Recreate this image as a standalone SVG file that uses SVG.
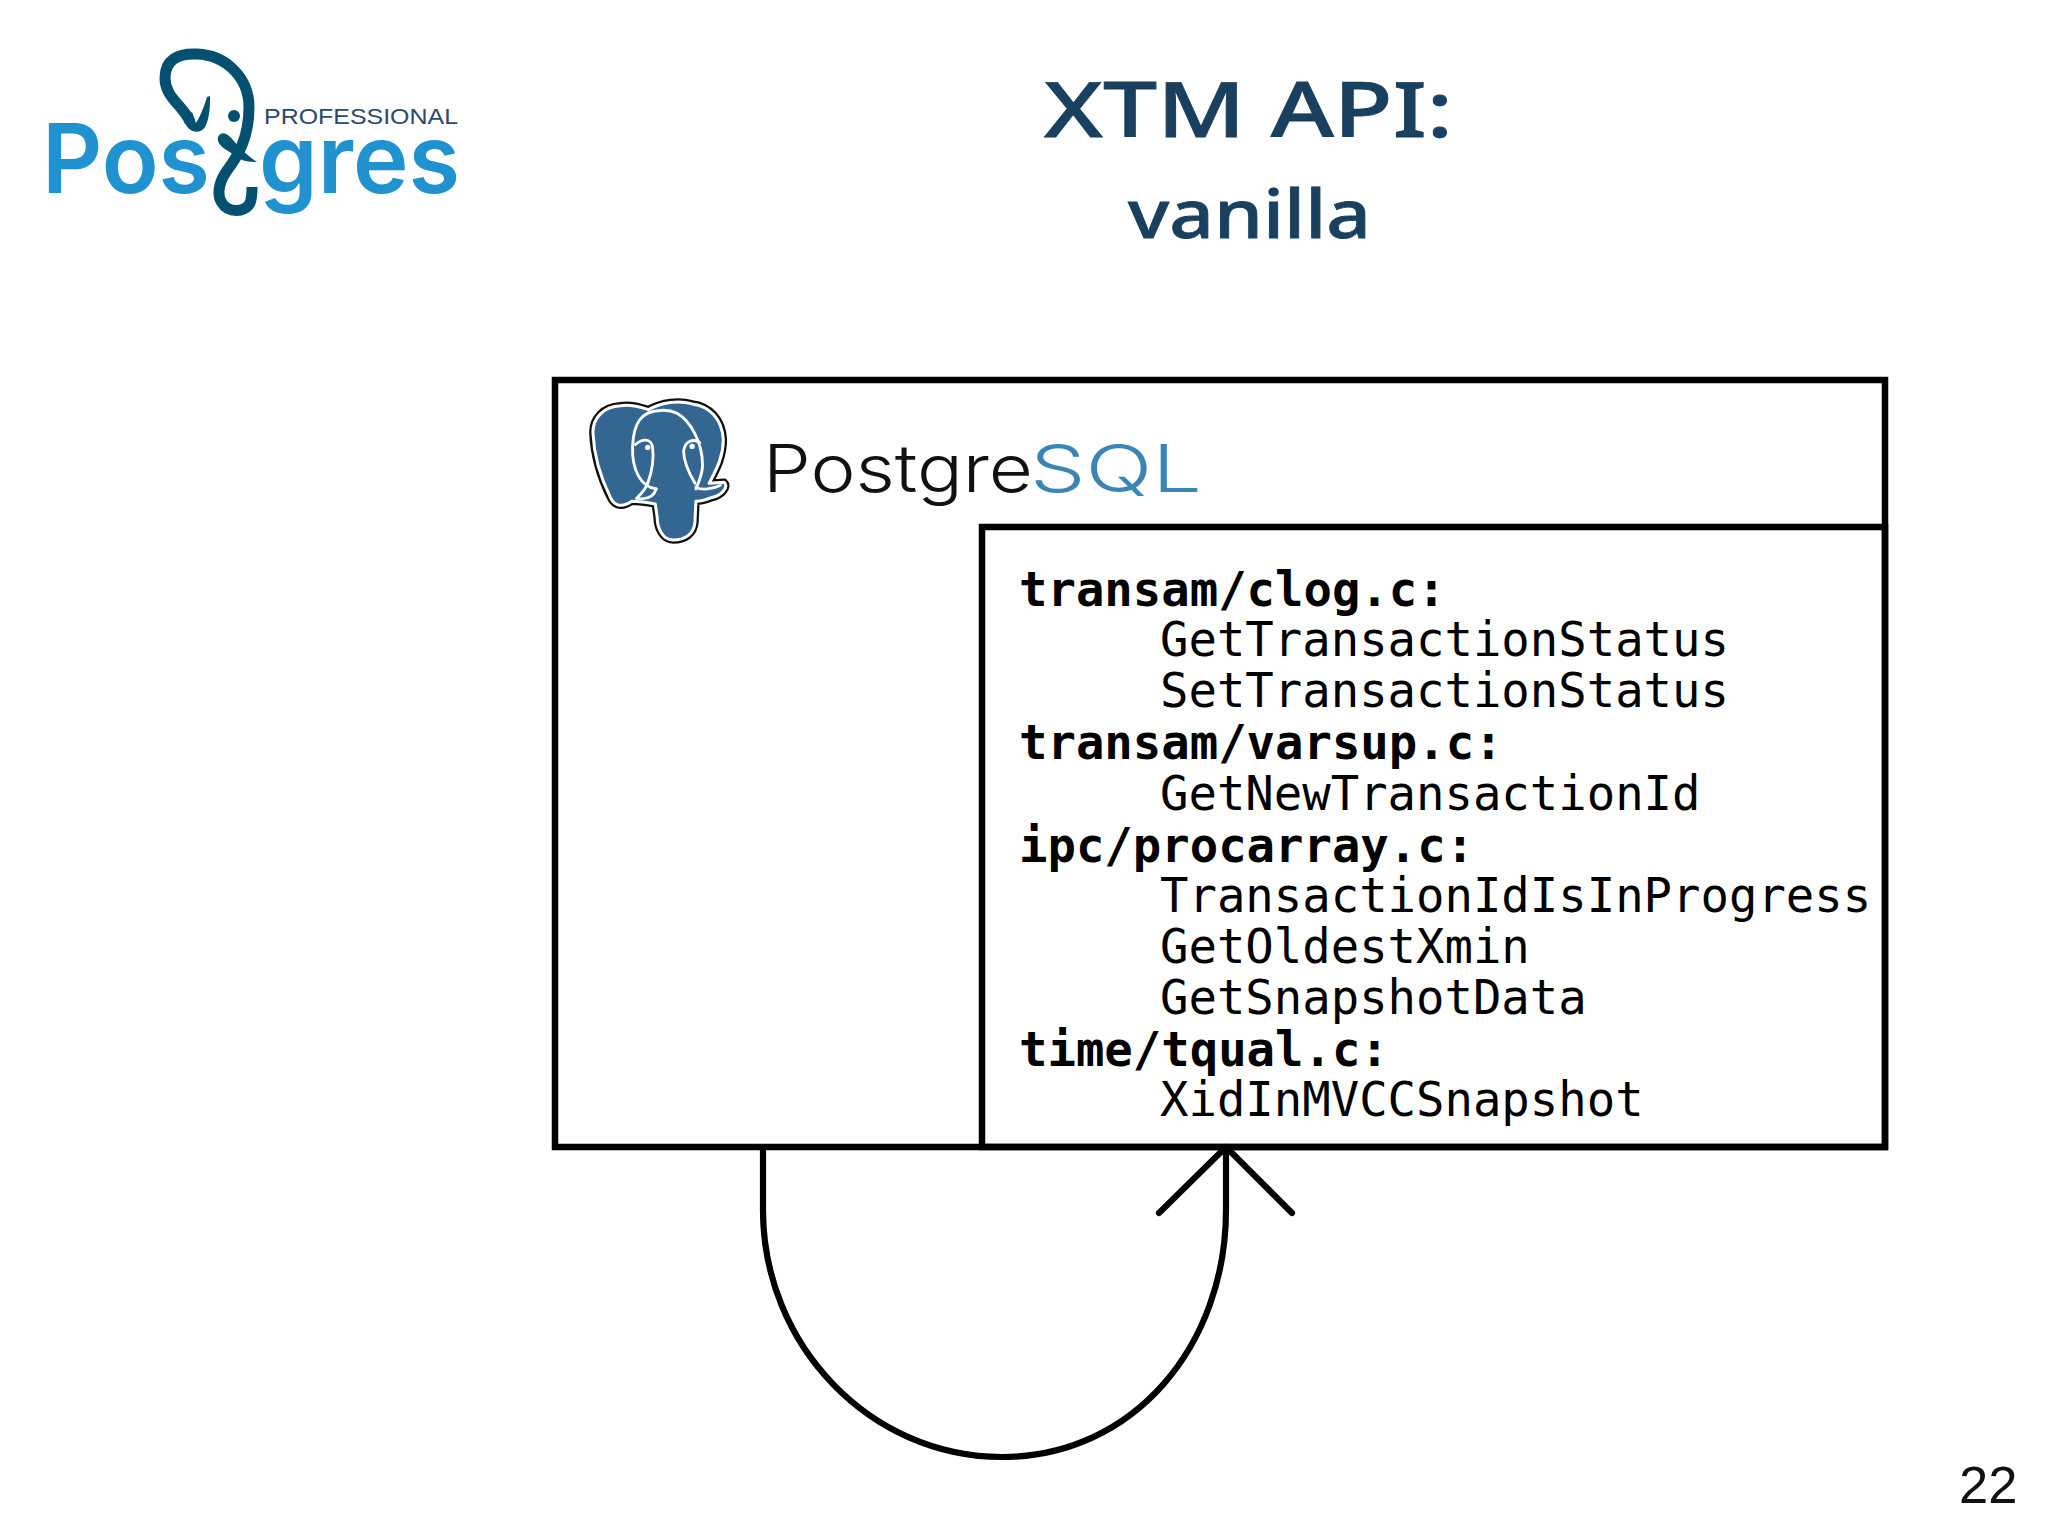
<svg xmlns="http://www.w3.org/2000/svg" width="2048" height="1536" viewBox="0 0 2048 1536">
<style>
.box{fill:none;stroke:#000;stroke-width:6.5}
.mono{font-family:"DejaVu Sans Mono","Liberation Mono",monospace;font-size:47.25px;fill:#000}
.b{font-weight:700}
.title{font-family:"Noto Sans","DejaVu Sans",sans-serif;font-weight:500;fill:#1a4060;text-anchor:start;stroke:#1a4060;stroke-width:.8}
.wire{fill:none;stroke:#000;stroke-width:6.2;stroke-linecap:round;stroke-linejoin:round}
.pg{font-family:"Inter","Liberation Sans",Arial,sans-serif;font-weight:600;font-size:96px;fill:#2092d0}
.ele{fill:none;stroke:#045070;stroke-width:11;stroke-linecap:butt}
.word{font-family:"Inter","Liberation Sans",sans-serif;font-weight:300;font-size:66px}
.wl{fill:none;stroke:#fff;stroke-width:3;stroke-linecap:round;stroke-linejoin:round}
</style>
<rect width="2048" height="1536" fill="#fff"/>
<g id="logo-postgrespro">
<text class="pg" x="42" y="193" textLength="168" lengthAdjust="spacingAndGlyphs">Pos</text>
<text class="pg" x="259" y="193" textLength="201" lengthAdjust="spacingAndGlyphs">gres</text>
<text x="264" y="124" textLength="194" lengthAdjust="spacingAndGlyphs" style="font-family:'Liberation Sans',sans-serif;font-size:22.5px;fill:#2d4a6a">PROFESSIONAL</text>
<path class="ele" d="M190 122C184 106 165 98 165 78C165 60 178 53 197 54C226 55 249 78 249 107C249 138 238 156 226 172C218 184 217 196 222 203C228 213 245 213 250 203C252 198 252 193 252 187"/>
<path fill="#045070" d="M184 118C185 132 200 136 205 127C210 118 210 105 210 96L207 97C204 107 200 117 196 123L192 112Z"/>
<path fill="#045070" d="M218 137C222 130 228 134 233 140C238 146 245 154 257 162C245 162 240 160 234 155C228 150 216 146 218 137Z"/>
<circle cx="234" cy="116" r="6" fill="#045070"/>
</g>
<g id="title">
<text class="title" x="1044" y="137" font-size="77" textLength="409" lengthAdjust="spacingAndGlyphs">XTM API:</text>
<text class="title" x="1128" y="238" font-size="68" textLength="243" lengthAdjust="spacingAndGlyphs">vanilla</text>
</g>
<g id="postgresql-box">
<rect class="box" x="555" y="380" width="1330" height="767"/>
<g id="postgresql-logo">
<g transform="translate(660 471) scale(.945) translate(-660 -471)">
<path fill="#336791" stroke="#111" stroke-width="8" stroke-linejoin="round" d="M618 402C628 400 638 403 648 406C662 398 680 396 694 400C712 402 726 416 727 438C727 458 718 472 712 484L728 483C733 488 725 497 715 499C708 502 702 503 698 503L697 525C696 538 686 544 674 544C662 544 657 530 657 520L655 506C645 504 640 503 630 503C620 510 612 508 608 500C598 480 590 455 589 430C589 415 600 403 618 402Z"/>
<path fill="#336791" stroke="#fff" stroke-width="3.2" stroke-linejoin="round" d="M618 402C628 400 638 403 648 406C662 398 680 396 694 400C712 402 726 416 727 438C727 458 718 472 712 484L728 483C733 488 725 497 715 499C708 502 702 503 698 503L697 525C696 538 686 544 674 544C662 544 657 530 657 520L655 506C645 504 640 503 630 503C620 510 612 508 608 500C598 480 590 455 589 430C589 415 600 403 618 402Z"/>
<path class="wl" d="M656 490C640 488 630 470 631 445C632 420 640 408 660 407C668 406 674 408 678 410C692 418 705 440 705 465C705 475 700 485 698 490"/>
<path class="wl" d="M634 443C642 436 650 437 652 445C654 458 652 470 647 484"/>
<path class="wl" d="M702 441C695 436 686 440 685 450C685 460 690 472 697 484"/>
<path class="wl" d="M656 490C654 497 648 502 635 500C640 495 644 492 647 484"/>
<path class="wl" d="M698 488C704 492 716 490 724 486"/>
<circle cx="647" cy="446" r="2.8" fill="#fff"/>
<circle cx="694" cy="445" r="2.8" fill="#fff"/>
</g>
<text class="word" x="763" y="492" fill="#111" textLength="270" lengthAdjust="spacingAndGlyphs">Postgre</text>
<text class="word" x="1030" y="492" fill="#3b85b5" textLength="172" lengthAdjust="spacingAndGlyphs">SQL</text>
</g>
</g>
<g id="xtm-api-box">
<rect class="box" x="982" y="527" width="903" height="620"/>
<text class="mono b" x="1019" y="606">transam/clog.c:</text>
<text class="mono" x="1160" y="656">GetTransactionStatus</text>
<text class="mono" x="1160" y="707">SetTransactionStatus</text>
<text class="mono b" x="1019" y="759">transam/varsup.c:</text>
<text class="mono" x="1160" y="810">GetNewTransactionId</text>
<text class="mono b" x="1019" y="862">ipc/procarray.c:</text>
<text class="mono" x="1160" y="912">TransactionIdIsInProgress</text>
<text class="mono" x="1160" y="963">GetOldestXmin</text>
<text class="mono" x="1160" y="1014">GetSnapshotData</text>
<text class="mono b" x="1019" y="1066">time/tqual.c:</text>
<text class="mono" x="1160" y="1116">XidInMVCCSnapshot</text>
</g>
<g id="connectors">
<path class="wire" d="M763 1147V1210C763 1345 870 1457 1002 1457C1134 1457 1226 1345 1226 1210V1147"/>
<path class="wire" d="M1159 1213L1226 1147L1292 1213"/>
</g>
<text id="page-number" x="1959" y="1503" style="font-family:'Liberation Sans',sans-serif;font-size:52.5px;fill:#111">22</text>
</svg>
